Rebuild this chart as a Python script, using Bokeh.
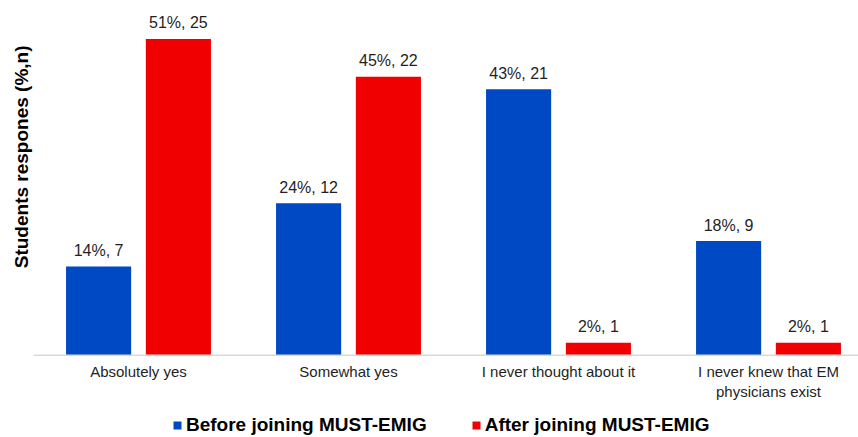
from bokeh.plotting import figure
from bokeh.models import ColumnDataSource, Range1d, Legend, LegendItem, Title, Span
from bokeh.core.properties import value
from bokeh.transform import dodge
from bokeh.embed import file_html
from bokeh.resources import INLINE

categories = ["Absolutely yes", "Somewhat yes", "I never thought about it",
              "I never knew that EM\nphysicians exist"]
before_pct = [14.3, 24.5, 42.9, 18.4]
after_pct = [51.0, 44.9, 2.0, 2.0]
before_labels = ["14%, 7", "24%, 12", "43%, 21", "18%, 9"]
after_labels = ["51%, 25", "45%, 22", "2%, 1", "2%, 1"]
series_names = ["Before joining MUST-EMIG", "After joining MUST-EMIG"]
y_title = "Students respones (%,n)"

BLUE = "#0049C5"
RED = "#F00000"
FONT = "Liberation Sans"

xs = [i + 0.5 for i in range(len(categories))]
src = ColumnDataSource(dict(x=xs, before=before_pct, after=after_pct,
                            bl=before_labels, al=after_labels, cat=categories,
                            zero=[0] * len(categories)))

p = figure(frame_width=825, frame_height=437, x_range=Range1d(0, 3.9286),
           y_range=Range1d(-13.28, 57.2),
           output_backend="svg", toolbar_location=None,
           x_axis_location=None, y_axis_location=None,
           min_border_left=33, min_border_right=0, min_border_top=0, min_border_bottom=0)
p.outline_line_color = None
p.xgrid.visible = False
p.ygrid.visible = False
p.background_fill_color = "white"
p.border_fill_color = "white"

r1 = p.vbar(x=dodge("x", -0.19, range=p.x_range), top="before", width=0.31, bottom=0,
            source=src, fill_color=BLUE, line_color=None)
r2 = p.vbar(x=dodge("x", 0.19, range=p.x_range), top="after", width=0.31, bottom=0,
            source=src, fill_color=RED, line_color=None)

# baseline (category axis line)
p.add_layout(Span(location=0, dimension="width", line_color="#d9d9d9", line_width=1.5))

# value labels
p.text(x=dodge("x", -0.19, range=p.x_range), y="before", text="bl", source=src,
       text_align="center", text_baseline="alphabetic", y_offset=-16,
       text_font=value(FONT), text_font_size="16px", text_color="#1f1f1f")
p.text(x=dodge("x", 0.19, range=p.x_range), y="after", text="al", source=src,
       text_align="center", text_baseline="alphabetic", y_offset=-16,
       text_font=value(FONT), text_font_size="16px", text_color="#1f1f1f")

# category labels
p.text(x="x", y="zero", text="cat", source=src, text_align="center",
       text_baseline="top", y_offset=8, text_line_height=1.15,
       text_font=value(FONT), text_font_size="15px", text_color="#1f1f1f")

t = Title(text=y_title, align="right", text_font=FONT, text_font_size="19px",
          text_font_style="bold", text_color="#000000", standoff=4, offset=45)
p.add_layout(t, "left")

legend = Legend(items=[LegendItem(label=series_names[0], renderers=[r1]),
                       LegendItem(label=series_names[1], renderers=[r2])],
                orientation="horizontal", location=(139, 1),
                glyph_width=10, glyph_height=10, label_standoff=4, spacing=44,
                padding=0, margin=0, border_line_color=None, background_fill_alpha=0,
                label_height=20,
                label_text_font=FONT, label_text_font_size="19px",
                label_text_font_style="bold", label_text_color="#000000")
p.add_layout(legend, "center")

open("out.html", "w").write(file_html(p, INLINE))
